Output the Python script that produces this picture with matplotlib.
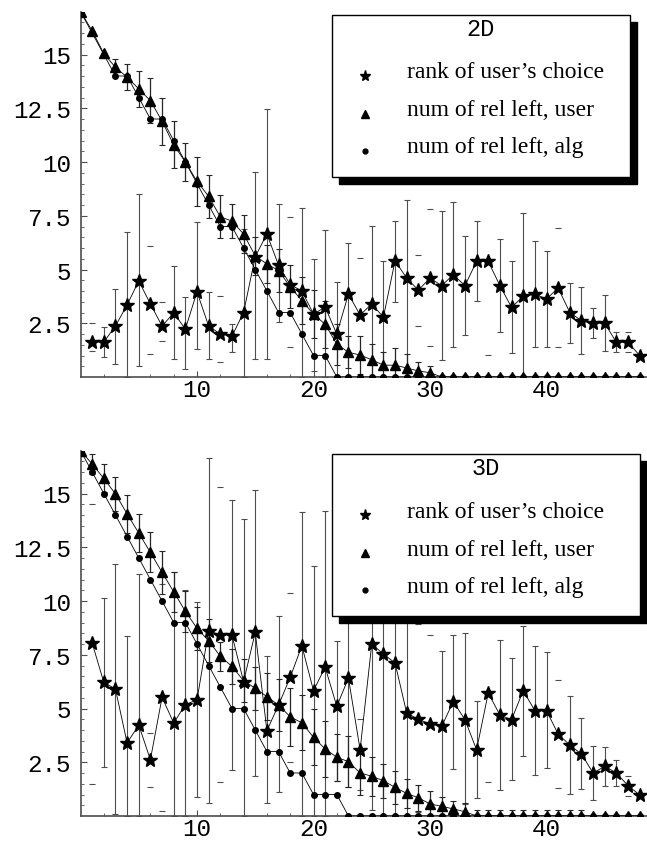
import numpy as np
import matplotlib
matplotlib.use("Agg")
import matplotlib.pyplot as plt
from matplotlib.patches import Rectangle
from matplotlib.lines import Line2D

W, H = 647, 845

# x positions: counts start at step 0, ranks at step 1
stepsCount = list(range(0, 49))
stepsRank = list(range(1, 49))

# ---- 2D panel ----
rank2d = [1.63, 1.63, 2.37, 3.35, 4.47, 3.4, 2.37, 2.98, 2.23, 3.96,
          2.37, 2.0, 1.9, 3.0, 5.6, 6.65, 5.2, 4.3, 4.0, 2.93,
          3.25, 2.0, 3.86, 2.88, 3.4, 2.78, 5.4, 4.6, 4.04, 4.6,
          4.25, 4.76, 4.25, 5.38, 5.38, 4.25, 3.24, 3.75, 3.86, 3.63,
          4.14, 3.0, 2.62, 2.5, 2.5, 1.61, 1.61, 1.0]
rank2dLow = [1.22, 0.92, 0.6, 0.0, 0.53, 1.07, 1.69, 0.84, 0.37, 1.3,
             0.84, 0.68, 1.15, 0.0, 0.84, 0.84, 2.54, 1.38, 0.0, 0.3,
             0.0, 0.0, 0.0, 1.0, 0.0, 0.5, 3.5, 0.0, 2.39, 1.46,
             0.8, 1.4, 1.97, 3.52, 1.04, 2.08, 1.1, 0.0, 1.41, 1.41,
             1.38, 1.58, 1.07, 1.8, 1.19, 1.18, 1.18, 1.0]
rank2dHigh = [2.5, 2.31, 4.09, 6.73, 8.51, 6.1, 3.5, 5.18, 3.7, 7.2,
              3.94, 3.78, 2.47, 6.9, 9.52, 12.47, 8.05, 7.43, 7.84, 5.5,
              6.85, 4.4, 6.22, 5.53, 7.04, 5.4, 7.27, 8.25, 5.67, 7.81,
              7.73, 8.12, 6.54, 7.24, 9.7, 6.42, 5.41, 7.63, 6.34, 5.87,
              6.92, 4.37, 4.2, 3.21, 3.81, 2.11, 2.11, 1.0]
user2d = [17, 16.1, 15.05, 14.4, 13.95, 13.4, 12.85, 11.9, 10.8, 10.0,
          9.1, 8.4, 7.45, 7.25, 6.65, 5.63, 5.26, 4.95, 4.2, 3.55,
          2.93, 2.45, 1.53, 1.15, 1.02, 0.8, 0.55, 0.55, 0.42, 0.28,
          0.2] + [0] * 18
user2dErr = [0, 0, 0, 0.4, 0.6, 0.85, 1.05, 1.1, 1.1, 0.9,
             1.15, 1.0, 1.0, 0.8, 0.9, 0.9, 0.9, 1.0, 1.0, 1.1,
             1.1, 1.1, 0.95, 0.75, 0.9, 0.75, 0.6, 0.8, 0.65, 0.4,
             0.3] + [0] * 18
alg2d = [17, 16, 15, 14, 14, 13, 12, 12, 11, 10, 9, 8, 7, 7, 6, 5, 4, 3, 3, 2,
         1, 1] + [0] * 27

# ---- 3D panel ----
rank3d = [8.05, 6.22, 5.9, 3.4, 4.23, 2.62, 5.52, 4.33, 5.18, 5.4,
          8.62, 8.42, 8.42, 6.25, 8.54, 3.97, 5.16, 6.45, 7.92, 5.83,
          6.92, 5.1, 6.42, 3.08, 8.0, 7.53, 7.12, 4.79, 4.5, 4.28,
          4.17, 5.32, 4.48, 3.08, 5.72, 4.7, 4.48, 5.83, 4.9, 4.9,
          3.81, 3.3, 2.88, 2.0, 2.31, 2.0, 1.41, 0.98]
rank3dLow = [1.49, 2.26, 0.09, 0.0, 0.0, 1.33, 0.25, 0.0, 0.0, 0.87,
             0.6, 1.6, 2.16, 0.0, 1.88, 0.6, 1.13, 2.53, 0.0, 0.0,
             0.0, 1.64, 1.33, 1.2, 0.3, 0.0, 0.0, 0.0, 0.2, 0.6,
             0.0, 2.19, 0.56, 0.84, 1.57, 1.22, 1.69, 2.78, 1.91, 2.22,
             1.3, 1.02, 1.26, 0.74, 1.38, 1.38, 0.92, 0.98]
rank3dHigh = [14.51, 10.14, 11.72, 8.39, 11.26, 3.86, 10.8, 11.33, 10.53, 9.97,
              16.64, 15.29, 14.7, 13.81, 15.18, 7.43, 9.32, 10.36, 14.15, 11.61,
              14.2, 8.16, 11.5, 4.5, 15.7, 15.0, 14.3, 13.0, 8.93, 8.42,
              7.69, 8.43, 8.51, 5.36, 9.9, 8.19, 7.33, 8.85, 7.92, 7.61,
              6.33, 5.6, 4.54, 3.27, 3.2, 2.62, 1.87, 0.98]
user3d = [17, 16.37, 15.7, 14.98, 14.05, 13.16, 12.26, 11.33, 10.43, 9.52,
          8.73, 8.15, 7.43, 6.96, 6.29, 5.94, 5.55, 5.16, 4.62, 4.33,
          3.66, 3.12, 2.73, 2.53, 2.0, 1.85, 1.64, 1.33, 1.05, 0.85,
          0.56, 0.45, 0.33, 0.2] + [0] * 15
user3dErr = [0, 0.45, 0.65, 0.8, 0.87, 0.9, 0.93, 1.0, 0.93, 0.95,
             1.0, 1.0, 0.68, 0.8, 1.0, 1.0, 1.1, 1.2, 1.35, 1.28,
             1.3, 1.3, 1.1, 1.2, 1.0, 0.9, 0.8, 0.75, 0.66, 0.6,
             0.6, 0.42, 0.38, 0.4] + [0.3] * 10 + [0] * 5
alg3d = [17, 16, 15, 14, 13, 12, 11, 10, 9, 9, 8, 7, 6, 5, 5, 4, 3, 3, 2, 2,
         1, 1, 1] + [0] * 26

# steps where only the caps of the rank bars show
capsOnly = [1, 6, 7, 12, 18, 24, 29, 30, 35, 41, 47]

yTicks = [2.5, 5, 7.5, 10, 12.5, 15]
yTickLabels = ["2.5", "5", "7.5", "10", "12.5", "15"]
xTicks = [10, 20, 30, 40]
keyLabels = ["rank of user\u2019s choice", "num of rel left, user", "num of rel left, alg"]

MONO = "Liberation Mono"
SERIF = "Liberation Serif"
PX_X = 11.65   # pixels per step
PX_Y = 21.5    # pixels per unit


def drawPanel(ax, rank, rankLow, rankHigh, user, userErr, alg):
    xr = np.array(stepsRank)
    xc = np.array(stepsCount)
    rank = np.array(rank)
    lo = np.array(rankLow)
    hi = np.array(rankHigh)
    full = ~np.isin(xr, capsOnly)

    # rank of user's choice: bars
    ax.errorbar(xr[full], rank[full], yerr=[rank[full] - lo[full], hi[full] - rank[full]],
                fmt="none", ecolor="0.3", elinewidth=0.8, capsize=2.5, capthick=0.8, zorder=2)
    ax.plot(xr[~full], lo[~full], ls="none", marker="_", ms=5, mew=0.8, color="0.3", zorder=2)
    ax.plot(xr[~full], hi[~full], ls="none", marker="_", ms=5, mew=0.8, color="0.3", zorder=2)

    # user counts: bars
    user = np.array(user)
    uerr = np.array(userErr)
    has = uerr > 0
    ax.errorbar(xc[has], user[has], yerr=uerr[has], fmt="none", ecolor="0.15",
                elinewidth=0.9, capsize=2.5, capthick=0.8, zorder=3)

    ax.plot(xc, alg, "-", color="k", lw=0.6, marker="o", ms=4, zorder=4)
    ax.plot(xc, user, "-", color="k", lw=0.6, marker="^", ms=7.5, zorder=5)
    ax.plot(xr, rank, "-", color="k", lw=0.6, marker="*", ms=10, zorder=6)

    ax.set_xlim(0, 566.5 / PX_X)
    ax.set_ylim(0, 17)
    for side in ["top", "right"]:
        ax.spines[side].set_visible(False)
    for side in ["left", "bottom"]:
        ax.spines[side].set_color("0.3")
        ax.spines[side].set_linewidth(1.2)
    ax.set_yticks(yTicks)
    ax.set_yticklabels(yTickLabels, fontfamily=MONO, fontsize=17.5)
    ax.set_yticks(np.arange(0.5, 17, 0.5), minor=True)
    ax.set_xticks(xTicks)
    ax.set_xticklabels([str(t) for t in xTicks], fontfamily=MONO, fontsize=17.5)
    ax.set_xticks(np.arange(2, 49, 2), minor=True)
    ax.tick_params(axis="both", which="major", direction="in", length=4, width=0.8, color="0.3")
    ax.tick_params(axis="both", which="minor", direction="in", length=2, width=0.6, color="0.3")
    ax.tick_params(axis="y", which="major", pad=7)
    ax.tick_params(axis="x", which="major", pad=1)


def fx(px):
    return px / W


def fy(py):
    return 1 - py / H


def drawKey(fig, left, top, right, bottom, title):
    shadow = Rectangle((fx(left + 7), fy(bottom + 7)), fx(right - left), (bottom - top) / H,
                       transform=fig.transFigure, facecolor="k", edgecolor="k", zorder=10)
    box = Rectangle((fx(left), fy(bottom)), fx(right - left), (bottom - top) / H,
                    transform=fig.transFigure, facecolor="white", edgecolor="k", lw=1.0, zorder=11)
    fig.add_artist(shadow)
    fig.add_artist(box)
    fig.text(fx((left + right) / 2), fy(top + 14), title, ha="center", va="center",
             fontfamily=MONO, fontsize=17, zorder=12)
    markers = [("*", 8), ("^", 6), ("o", 3.5)]
    rows = [57, 95, 132]
    for (m, s), row, label in zip(markers, rows, keyLabels):
        fig.add_artist(Line2D([fx(left + 33)], [fy(top + row + 4)], transform=fig.transFigure,
                              marker=m, ms=s, color="k", ls="none", zorder=12))
        fig.text(fx(left + 75), fy(top + row), label, ha="left", va="center",
                 fontfamily=SERIF, fontsize=17, zorder=12)


fig = plt.figure(figsize=(W / 100, H / 100), dpi=100)
axTop = fig.add_axes([80.5 / W, (H - 378) / H, 566.5 / W, 17 * PX_Y / H])
axBot = fig.add_axes([80.5 / W, (H - 817) / H, 566.5 / W, 17 * PX_Y / H])

drawPanel(axTop, rank2d, rank2dLow, rank2dHigh, user2d, user2dErr, alg2d)
drawPanel(axBot, rank3d, rank3dLow, rank3dHigh, user3d, user3dErr, alg3d)

drawKey(fig, 332, 16, 630, 178, "2D")
drawKey(fig, 332, 455, 640, 617, "3D")

fig.savefig("out.png", dpi=100)
